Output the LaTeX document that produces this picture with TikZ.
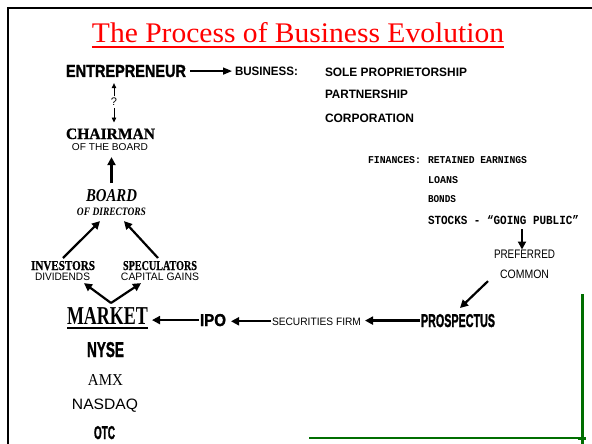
\documentclass[tikz,border=0pt]{standalone}
\usepackage{fontspec}
\setmainfont{Liberation Serif}
\setsansfont{Liberation Sans}
\setmonofont{Liberation Mono}
\newfontfamily\hvsans[BoldFeatures={FakeBold=1.6}]{Liberation Sans}
\newfontfamily\hvserif[BoldFeatures={FakeBold=0.8}]{Liberation Serif}
\usepackage{graphicx}
\usetikzlibrary{arrows.meta,calc}
\newcommand{\fb}[3]{\resizebox{#1pt}{#2pt}{#3}}
\definecolor{dkgreen}{RGB}{0,110,0}
\begin{document}
\begin{tikzpicture}[x=1pt,y=-1pt,
  lbl/.style={anchor=base, inner sep=0pt, outer sep=0pt},
  lblw/.style={anchor=base west, inner sep=0pt, outer sep=0pt},
  arr/.style={line width=2.2pt, -{Triangle[length=8pt,width=8pt]}},
  thinarr/.style={line width=1.5pt, -{Triangle[length=9pt,width=7pt]}},
  qarr/.style={line width=0.8pt, -{Triangle[length=5pt,width=4.5pt]}},
  frame/.style={line width=2.5pt}
]
\useasboundingbox (0,0) rectangle (592,444);
\fill[white] (0,0) rectangle (592,444);
\draw[frame, line join=miter] (8,444) -- (8,8) -- (592,8);

% title
\node[lbl, text=red] (title) at (298,43) {\fb{412}{20}{\rmfamily The Process of Business Evolution}};
\draw[red, line width=1.6pt] ($(title.base west)+(0,4)$) -- ($(title.base east)+(0,4)$);

% top row
\node[lbl] (ent) at (126,77) {\fb{120}{12}{\hvsans\bfseries ENTREPRENEUR}};
\node[lbl] (bus) at (266.5,76) {\fb{63}{8.5}{\sffamily\bfseries BUSINESS:}};
\node[lblw] (sole) at (325,77) {\fb{142}{8.5}{\sffamily\bfseries SOLE PROPRIETORSHIP}};
\node[lblw] (part) at (325,99) {\fb{83}{8.5}{\sffamily\bfseries PARTNERSHIP}};
\node[lblw] (corp) at (325,122) {\fb{89}{8.5}{\sffamily\bfseries CORPORATION}};
\draw[thinarr, shorten <=4pt, shorten >=3pt] (ent.east) -- (ent.east -| bus.west);

% question
\node[lbl] (q) at (114,106) {\fontsize{11}{11}\selectfont\sffamily ?};

% chairman / board
\node[lbl] (chair) at (110.5,139) {\fb{89}{10.5}{\hvserif\bfseries CHAIRMAN}};
\node[lbl] (ofb) at (110,150) {\fb{76}{7}{\sffamily OF THE BOARD}};
\draw[qarr, shorten >=6pt] ($(q.north)+(0,-2)$) -- (q.north |- ent.south);
\draw[qarr, shorten >=6pt] ($(q.south)+(0,2)$) -- (q.south |- chair.north);

\node[lbl] (board) at (111.5,201) {\fb{51}{12}{\hvserif\bfseries\itshape BOARD}};
\node[lbl] (dir) at (111.5,215) {\fb{69}{7.5}{\rmfamily\bfseries\itshape OF DIRECTORS}};
\draw[arr, shorten >=7pt] ($(board.north)+(0,-6)$) -- (board.north |- ofb.south);

\node[lbl] (inv) at (63,270) {\fb{64}{9}{\hvserif\bfseries INVESTORS}};
\node[lbl] (div) at (62.5,280) {\fb{55}{7.5}{\sffamily DIVIDENDS}};
\node[lbl] (spec) at (160,270) {\fb{74}{9}{\hvserif\bfseries SPECULATORS}};
\node[lbl] (capg) at (160,280) {\fb{78}{7.5}{\sffamily CAPITAL GAINS}};
\draw[arr] ($(inv.north)+(0,-3)$) -- ($(dir.south)+(-11.5,6)$);
\draw[arr] ($(spec.north)+(-2,-3)$) -- ($(dir.south)+(12.5,6)$);

% market
\node[lbl] (market) at (107.5,324) {\fb{81}{17}{\rmfamily\bfseries MARKET}};
\draw[line width=1.2pt] ($(market.base west)+(0,4)$) -- ($(market.base east)+(0,4)$);
\coordinate (mk) at ($(market.north)+(3.5,-4)$);
\draw[arr] (mk) -- ($(div.south)+(21.5,3)$);
\draw[arr] (mk) -- ($(capg.south)+(-19,3)$);

\node[lbl] (nyse) at (105.5,357) {\fb{37}{15}{\hvsans\bfseries NYSE}};
\node[lbl] (amx) at (105.5,385) {\fb{35}{11}{\rmfamily AMX}};
\node[lbl] (nasdaq) at (105,409) {\fb{66}{10.5}{\sffamily NASDAQ}};
\node[lbl] (otc) at (104.5,439) {\fb{21}{13}{\hvsans\bfseries OTC}};

% bottom chain
\node[lbl] (ipo) at (213,326) {\fb{26}{12}{\hvsans\bfseries IPO}};
\node[lbl] (sec) at (316.5,325) {\fb{89}{7.5}{\sffamily SECURITIES FIRM}};
\node[lbl] (pros) at (458,327) {\fb{74}{13}{\hvsans\bfseries PROSPECTUS}};
\draw[arr, shorten <=1pt, shorten >=4pt] (ipo.west) -- (ipo.west -| market.east);
\draw[arr, shorten <=1pt, shorten >=5pt] (sec.west) -- (sec.west -| ipo.east);
\draw[arr, shorten <=1pt, shorten >=4pt] (pros.west) -- (pros.west -| sec.east);

% finances
\node[lblw] (fin) at (368,163) {\fb{53}{7}{\ttfamily\bfseries FINANCES:}};
\node[lblw] (ret) at (428,163) {\fb{99}{7}{\ttfamily\bfseries RETAINED EARNINGS}};
\node[lblw] (loans) at (428,183) {\fb{30}{7}{\ttfamily\bfseries LOANS}};
\node[lblw] (bonds) at (428,202) {\fb{28}{7}{\ttfamily\bfseries BONDS}};
\node[lblw] (stocks) at (428,224) {\fb{151}{9}{\ttfamily\bfseries STOCKS - “GOING PUBLIC”}};
\node[lbl] (pref) at (524.5,258) {\fb{61}{8.5}{\sffamily PREFERRED}};
\node[lbl] (common) at (524.5,278) {\fb{49}{8.5}{\sffamily COMMON}};
\coordinate (sa) at ($(stocks.base)+(18.5,5)$);
\draw[arr] (sa) -- (sa |- pref.north);
\draw[arr] ($(common.south)+(-36.5,3)$) -- ($(pros.north)+(2,-6)$);

% green lines
\draw[dkgreen, line width=1.5pt] (309,438) -- (586,438);
\draw[dkgreen, line width=3pt] (582,294) -- (582,444);
\draw[dkgreen, line width=3pt] (578,438) -- (586,438);
\end{tikzpicture}
\end{document}
